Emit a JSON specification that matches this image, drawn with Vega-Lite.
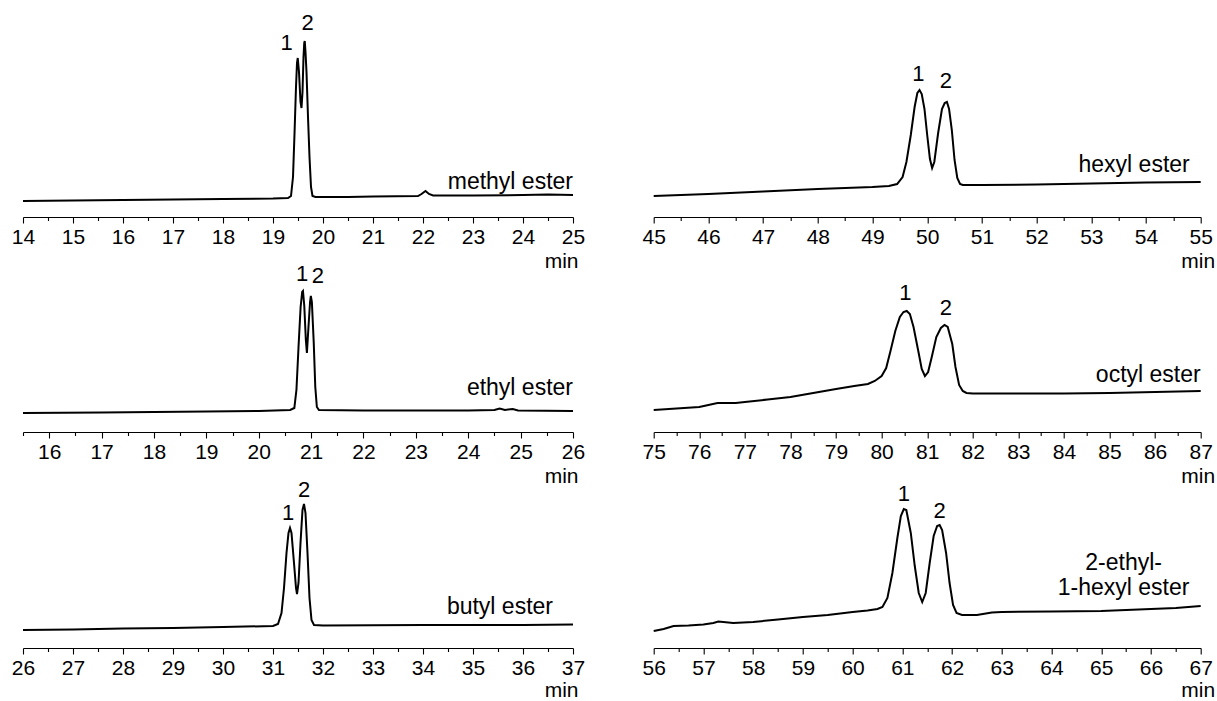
{
  "$schema": "https://vega.github.io/schema/vega-lite/v6.json",
  "padding": {"left": 11, "top": 10, "right": 0, "bottom": 0},
  "autosize": {"type": "pad"},
  "config": {
    "view": {"stroke": null},
    "font": "Liberation Sans",
    "axis": {"domainColor": "black", "domainWidth": 1.1, "tickColor": "black", "tickWidth": 1.1, "labelColor": "black", "labelFont": "Liberation Sans", "labelFontSize": 21, "labelPadding": 3, "labelFlush": false, "labelOverlap": false, "grid": false, "titleFont": "Liberation Sans", "titleFontSize": 21, "titleFontWeight": "normal", "titleColor": "black", "titleAlign": "right", "titleBaseline": "middle", "titleY": 44},
    "text": {"font": "Liberation Sans", "color": "black"}
  },
  "datasets": {
    "trace": [
      {"s":"methyl","t":14,"v":16},{"s":"methyl","t":15,"v":16.5},{"s":"methyl","t":16,"v":17},{"s":"methyl","t":17,"v":17.5},{"s":"methyl","t":18,"v":18},{"s":"methyl","t":19,"v":18.5},{"s":"methyl","t":19.3,"v":19},{"s":"methyl","t":19.36,"v":21},{"s":"methyl","t":19.4,"v":40},{"s":"methyl","t":19.43,"v":83},{"s":"methyl","t":19.46,"v":130},{"s":"methyl","t":19.48,"v":154},{"s":"methyl","t":19.495,"v":159},{"s":"methyl","t":19.52,"v":145},{"s":"methyl","t":19.55,"v":115},{"s":"methyl","t":19.57,"v":109},{"s":"methyl","t":19.59,"v":125},{"s":"methyl","t":19.61,"v":160},{"s":"methyl","t":19.625,"v":174},{"s":"methyl","t":19.635,"v":176},{"s":"methyl","t":19.65,"v":165},{"s":"methyl","t":19.67,"v":145},{"s":"methyl","t":19.7,"v":100},{"s":"methyl","t":19.73,"v":60},{"s":"methyl","t":19.76,"v":30},{"s":"methyl","t":19.79,"v":21},{"s":"methyl","t":19.85,"v":20},{"s":"methyl","t":20.5,"v":20},{"s":"methyl","t":21,"v":20.5},{"s":"methyl","t":21.9,"v":21},{"s":"methyl","t":21.97,"v":23},{"s":"methyl","t":22.05,"v":26},{"s":"methyl","t":22.12,"v":23},{"s":"methyl","t":22.2,"v":21.5},{"s":"methyl","t":23,"v":21.5},{"s":"methyl","t":24,"v":22},{"s":"methyl","t":24.5,"v":22.5},{"s":"methyl","t":25,"v":22},
      {"s":"ethyl","t":15.5,"v":19},{"s":"ethyl","t":17,"v":19.5},{"s":"ethyl","t":18,"v":20},{"s":"ethyl","t":19,"v":20.5},{"s":"ethyl","t":20,"v":21},{"s":"ethyl","t":20.6,"v":22},{"s":"ethyl","t":20.68,"v":24},{"s":"ethyl","t":20.72,"v":42},{"s":"ethyl","t":20.76,"v":85},{"s":"ethyl","t":20.8,"v":125},{"s":"ethyl","t":20.83,"v":140},{"s":"ethyl","t":20.845,"v":141},{"s":"ethyl","t":20.87,"v":126},{"s":"ethyl","t":20.9,"v":92},{"s":"ethyl","t":20.92,"v":79},{"s":"ethyl","t":20.95,"v":105},{"s":"ethyl","t":20.98,"v":130},{"s":"ethyl","t":20.995,"v":136},{"s":"ethyl","t":21.015,"v":130},{"s":"ethyl","t":21.05,"v":90},{"s":"ethyl","t":21.08,"v":45},{"s":"ethyl","t":21.11,"v":25},{"s":"ethyl","t":21.15,"v":22},{"s":"ethyl","t":22,"v":21.5},{"s":"ethyl","t":23,"v":21.5},{"s":"ethyl","t":24,"v":21.5},{"s":"ethyl","t":24.5,"v":22},{"s":"ethyl","t":24.6,"v":23.5},{"s":"ethyl","t":24.7,"v":22},{"s":"ethyl","t":24.85,"v":23},{"s":"ethyl","t":24.95,"v":21.5},{"s":"ethyl","t":26,"v":21},
      {"s":"butyl","t":26,"v":18},{"s":"butyl","t":27,"v":18.5},{"s":"butyl","t":28,"v":19.5},{"s":"butyl","t":29,"v":20},{"s":"butyl","t":30,"v":21},{"s":"butyl","t":31,"v":22},{"s":"butyl","t":31.1,"v":24},{"s":"butyl","t":31.17,"v":35},{"s":"butyl","t":31.22,"v":60},{"s":"butyl","t":31.27,"v":95},{"s":"butyl","t":31.31,"v":115},{"s":"butyl","t":31.34,"v":120},{"s":"butyl","t":31.37,"v":115},{"s":"butyl","t":31.42,"v":85},{"s":"butyl","t":31.46,"v":60},{"s":"butyl","t":31.48,"v":54},{"s":"butyl","t":31.51,"v":65},{"s":"butyl","t":31.55,"v":105},{"s":"butyl","t":31.59,"v":138},{"s":"butyl","t":31.62,"v":144},{"s":"butyl","t":31.65,"v":135},{"s":"butyl","t":31.69,"v":95},{"s":"butyl","t":31.73,"v":50},{"s":"butyl","t":31.77,"v":28},{"s":"butyl","t":31.82,"v":23},{"s":"butyl","t":32,"v":22.5},{"s":"butyl","t":34,"v":23},{"s":"butyl","t":36,"v":23},{"s":"butyl","t":37,"v":23.5},
      {"s":"hexyl","t":45,"v":21},{"s":"hexyl","t":46,"v":23},{"s":"hexyl","t":47,"v":25.5},{"s":"hexyl","t":48,"v":28},{"s":"hexyl","t":49,"v":30},{"s":"hexyl","t":49.3,"v":31},{"s":"hexyl","t":49.45,"v":33},{"s":"hexyl","t":49.55,"v":40},{"s":"hexyl","t":49.62,"v":55},{"s":"hexyl","t":49.7,"v":82},{"s":"hexyl","t":49.77,"v":110},{"s":"hexyl","t":49.82,"v":124},{"s":"hexyl","t":49.86,"v":127},{"s":"hexyl","t":49.9,"v":123},{"s":"hexyl","t":49.95,"v":108},{"s":"hexyl","t":50.0,"v":82},{"s":"hexyl","t":50.05,"v":58},{"s":"hexyl","t":50.09,"v":49},{"s":"hexyl","t":50.13,"v":55},{"s":"hexyl","t":50.2,"v":84},{"s":"hexyl","t":50.27,"v":108},{"s":"hexyl","t":50.32,"v":114},{"s":"hexyl","t":50.36,"v":115},{"s":"hexyl","t":50.4,"v":108},{"s":"hexyl","t":50.45,"v":87},{"s":"hexyl","t":50.5,"v":57},{"s":"hexyl","t":50.55,"v":39},{"s":"hexyl","t":50.6,"v":33},{"s":"hexyl","t":50.65,"v":32},{"s":"hexyl","t":51,"v":32},{"s":"hexyl","t":52,"v":32.5},{"s":"hexyl","t":53,"v":33.5},{"s":"hexyl","t":54,"v":34.5},{"s":"hexyl","t":55,"v":35},
      {"s":"octyl","t":75,"v":22},{"s":"octyl","t":75.5,"v":23.5},{"s":"octyl","t":76,"v":25},{"s":"octyl","t":76.2,"v":27},{"s":"octyl","t":76.4,"v":29},{"s":"octyl","t":76.8,"v":29},{"s":"octyl","t":77,"v":30},{"s":"octyl","t":77.5,"v":32.5},{"s":"octyl","t":78,"v":35},{"s":"octyl","t":78.5,"v":39},{"s":"octyl","t":79,"v":43},{"s":"octyl","t":79.4,"v":46},{"s":"octyl","t":79.7,"v":48},{"s":"octyl","t":79.85,"v":51},{"s":"octyl","t":80.0,"v":56},{"s":"octyl","t":80.1,"v":64},{"s":"octyl","t":80.2,"v":82},{"s":"octyl","t":80.3,"v":101},{"s":"octyl","t":80.4,"v":115},{"s":"octyl","t":80.48,"v":120},{"s":"octyl","t":80.55,"v":121},{"s":"octyl","t":80.62,"v":118},{"s":"octyl","t":80.7,"v":105},{"s":"octyl","t":80.8,"v":82},{"s":"octyl","t":80.88,"v":63},{"s":"octyl","t":80.95,"v":56},{"s":"octyl","t":81.02,"v":60},{"s":"octyl","t":81.1,"v":75},{"s":"octyl","t":81.2,"v":95},{"s":"octyl","t":81.3,"v":104},{"s":"octyl","t":81.38,"v":107},{"s":"octyl","t":81.45,"v":105},{"s":"octyl","t":81.55,"v":88},{"s":"octyl","t":81.62,"v":65},{"s":"octyl","t":81.7,"v":47},{"s":"octyl","t":81.78,"v":41},{"s":"octyl","t":81.86,"v":39},{"s":"octyl","t":82,"v":38.5},{"s":"octyl","t":83,"v":38.5},{"s":"octyl","t":84,"v":38.5},{"s":"octyl","t":85,"v":39},{"s":"octyl","t":86,"v":40},{"s":"octyl","t":87,"v":41},
      {"s":"ehex","t":56,"v":17},{"s":"ehex","t":56.2,"v":19},{"s":"ehex","t":56.4,"v":22},{"s":"ehex","t":56.7,"v":22.5},{"s":"ehex","t":57,"v":23.5},{"s":"ehex","t":57.2,"v":25},{"s":"ehex","t":57.3,"v":26.5},{"s":"ehex","t":57.6,"v":25},{"s":"ehex","t":58,"v":26},{"s":"ehex","t":58.5,"v":28.5},{"s":"ehex","t":59,"v":31},{"s":"ehex","t":59.5,"v":33},{"s":"ehex","t":60,"v":36},{"s":"ehex","t":60.3,"v":37.5},{"s":"ehex","t":60.5,"v":39},{"s":"ehex","t":60.6,"v":41},{"s":"ehex","t":60.7,"v":50},{"s":"ehex","t":60.8,"v":75},{"s":"ehex","t":60.9,"v":110},{"s":"ehex","t":60.97,"v":132},{"s":"ehex","t":61.03,"v":139},{"s":"ehex","t":61.08,"v":138},{"s":"ehex","t":61.17,"v":115},{"s":"ehex","t":61.25,"v":82},{"s":"ehex","t":61.33,"v":55},{"s":"ehex","t":61.4,"v":46},{"s":"ehex","t":61.47,"v":55},{"s":"ehex","t":61.55,"v":85},{"s":"ehex","t":61.63,"v":112},{"s":"ehex","t":61.7,"v":122},{"s":"ehex","t":61.75,"v":123},{"s":"ehex","t":61.8,"v":118},{"s":"ehex","t":61.88,"v":95},{"s":"ehex","t":61.95,"v":65},{"s":"ehex","t":62.02,"v":43},{"s":"ehex","t":62.09,"v":35},{"s":"ehex","t":62.2,"v":33},{"s":"ehex","t":62.5,"v":33},{"s":"ehex","t":62.8,"v":35.5},{"s":"ehex","t":63,"v":36},{"s":"ehex","t":64,"v":36.5},{"s":"ehex","t":65,"v":37},{"s":"ehex","t":66,"v":39},{"s":"ehex","t":66.5,"v":40},{"s":"ehex","t":67,"v":42}
    ],
    "labels": [
      {"s":"methyl","k":"peak","t":19.27,"v":174,"label":"1"},{"s":"methyl","k":"peak","t":19.69,"v":194,"label":"2"},{"s":"methyl","k":"name","t":25,"v":35,"label":"methyl ester"},
      {"s":"ethyl","k":"peak","t":20.83,"v":158,"label":"1"},{"s":"ethyl","k":"peak","t":21.13,"v":156,"label":"2"},{"s":"ethyl","k":"name","t":26,"v":44,"label":"ethyl ester"},
      {"s":"butyl","k":"peak","t":31.3,"v":135,"label":"1"},{"s":"butyl","k":"peak","t":31.62,"v":158,"label":"2"},{"s":"butyl","k":"name","t":36.6,"v":41,"label":"butyl ester"},
      {"s":"hexyl","k":"peak","t":49.84,"v":143,"label":"1"},{"s":"hexyl","k":"peak","t":50.34,"v":136,"label":"2"},{"s":"hexyl","k":"name","t":54.8,"v":52,"label":"hexyl ester"},
      {"s":"octyl","k":"peak","t":80.52,"v":139,"label":"1"},{"s":"octyl","k":"peak","t":81.41,"v":124,"label":"2"},{"s":"octyl","k":"name","t":87,"v":57,"label":"octyl ester"},
      {"s":"ehex","k":"peak","t":61.03,"v":154,"label":"1"},{"s":"ehex","k":"peak","t":61.75,"v":137,"label":"2"},{"s":"ehex","k":"name","t":65.45,"v":85,"label":"2-ethyl-"},{"s":"ehex","k":"name","t":65.45,"v":60,"label":"1-hexyl ester"}
    ]
  },
  "bounds": "flush",
  "columns": 2,
  "spacing": {"row": 55, "column": 80.7},
  "concat": [
    {
      "width": 550, "height": 207,
      "encoding": {
        "x": {"field": "t", "type": "quantitative", "scale": {"domain": [14, 25], "nice": false, "zero": false},
          "axis": {"values": [14,14.5,15,15.5,16,16.5,17,17.5,18,18.5,19,19.5,20,20.5,21,21.5,22,22.5,23,23.5,24,24.5,25], "labelExpr": "datum.value % 1 === 0 ? '' + datum.value : ''", "tickSize": {"condition": {"test": "datum.value % 1 === 0", "value": 6}, "value": 3.5}, "title": "min", "titleX": 555}},
        "y": {"field": "v", "type": "quantitative", "scale": {"domain": [0, 207], "nice": false, "zero": false}, "axis": null}
      },
      "layer": [
        {"data": {"name": "trace"}, "transform": [{"filter": "datum.s === 'methyl'"}], "mark": {"type": "line", "color": "black", "strokeWidth": 2}},
        {"data": {"name": "labels"}, "transform": [{"filter": "datum.s === 'methyl' && datum.k === 'peak'"}], "mark": {"type": "text", "fontSize": 22, "align": "center", "baseline": "middle"}, "encoding": {"text": {"field": "label"}}},
        {"data": {"name": "labels"}, "transform": [{"filter": "datum.s === 'methyl' && datum.k === 'name'"}], "mark": {"type": "text", "fontSize": 23, "align": "right", "baseline": "middle"}, "encoding": {"text": {"field": "label"}}}
      ]
    },
    {
      "width": 547, "height": 207,
      "encoding": {
        "x": {"field": "t", "type": "quantitative", "scale": {"domain": [45, 55], "nice": false, "zero": false},
          "axis": {"values": [45,45.5,46,46.5,47,47.5,48,48.5,49,49.5,50,50.5,51,51.5,52,52.5,53,53.5,54,54.5,55], "labelExpr": "datum.value % 1 === 0 ? '' + datum.value : ''", "tickSize": {"condition": {"test": "datum.value % 1 === 0", "value": 6}, "value": 3.5}, "title": "min", "titleX": 561}},
        "y": {"field": "v", "type": "quantitative", "scale": {"domain": [0, 207], "nice": false, "zero": false}, "axis": null}
      },
      "layer": [
        {"data": {"name": "trace"}, "transform": [{"filter": "datum.s === 'hexyl'"}], "mark": {"type": "line", "color": "black", "strokeWidth": 2}},
        {"data": {"name": "labels"}, "transform": [{"filter": "datum.s === 'hexyl' && datum.k === 'peak'"}], "mark": {"type": "text", "fontSize": 22, "align": "center", "baseline": "middle"}, "encoding": {"text": {"field": "label"}}},
        {"data": {"name": "labels"}, "transform": [{"filter": "datum.s === 'hexyl' && datum.k === 'name'"}], "mark": {"type": "text", "fontSize": 23, "align": "right", "baseline": "middle"}, "encoding": {"text": {"field": "label"}}}
      ]
    },
    {
      "width": 550, "height": 160,
      "encoding": {
        "x": {"field": "t", "type": "quantitative", "scale": {"domain": [15.5, 26], "nice": false, "zero": false},
          "axis": {"values": [15.5,16,16.5,17,17.5,18,18.5,19,19.5,20,20.5,21,21.5,22,22.5,23,23.5,24,24.5,25,25.5,26], "labelExpr": "datum.value % 1 === 0 ? '' + datum.value : ''", "tickSize": {"condition": {"test": "datum.value % 1 === 0", "value": 6}, "value": 3.5}, "title": "min", "titleX": 555}},
        "y": {"field": "v", "type": "quantitative", "scale": {"domain": [0, 160], "nice": false, "zero": false}, "axis": null}
      },
      "layer": [
        {"data": {"name": "trace"}, "transform": [{"filter": "datum.s === 'ethyl'"}], "mark": {"type": "line", "color": "black", "strokeWidth": 2}},
        {"data": {"name": "labels"}, "transform": [{"filter": "datum.s === 'ethyl' && datum.k === 'peak'"}], "mark": {"type": "text", "fontSize": 22, "align": "center", "baseline": "middle"}, "encoding": {"text": {"field": "label"}}},
        {"data": {"name": "labels"}, "transform": [{"filter": "datum.s === 'ethyl' && datum.k === 'name'"}], "mark": {"type": "text", "fontSize": 23, "align": "right", "baseline": "middle"}, "encoding": {"text": {"field": "label"}}}
      ]
    },
    {
      "width": 547, "height": 160,
      "encoding": {
        "x": {"field": "t", "type": "quantitative", "scale": {"domain": [75, 87], "nice": false, "zero": false},
          "axis": {"values": [75,75.5,76,76.5,77,77.5,78,78.5,79,79.5,80,80.5,81,81.5,82,82.5,83,83.5,84,84.5,85,85.5,86,86.5,87], "labelExpr": "datum.value % 1 === 0 ? '' + datum.value : ''", "tickSize": {"condition": {"test": "datum.value % 1 === 0", "value": 6}, "value": 3.5}, "title": "min", "titleX": 561}},
        "y": {"field": "v", "type": "quantitative", "scale": {"domain": [0, 160], "nice": false, "zero": false}, "axis": null}
      },
      "layer": [
        {"data": {"name": "trace"}, "transform": [{"filter": "datum.s === 'octyl'"}], "mark": {"type": "line", "color": "black", "strokeWidth": 2}},
        {"data": {"name": "labels"}, "transform": [{"filter": "datum.s === 'octyl' && datum.k === 'peak'"}], "mark": {"type": "text", "fontSize": 22, "align": "center", "baseline": "middle"}, "encoding": {"text": {"field": "label"}}},
        {"data": {"name": "labels"}, "transform": [{"filter": "datum.s === 'octyl' && datum.k === 'name'"}], "mark": {"type": "text", "fontSize": 23, "align": "right", "baseline": "middle"}, "encoding": {"text": {"field": "label"}}}
      ]
    },
    {
      "width": 550, "height": 161,
      "encoding": {
        "x": {"field": "t", "type": "quantitative", "scale": {"domain": [26, 37], "nice": false, "zero": false},
          "axis": {"values": [26,26.5,27,27.5,28,28.5,29,29.5,30,30.5,31,31.5,32,32.5,33,33.5,34,34.5,35,35.5,36,36.5,37], "labelExpr": "datum.value % 1 === 0 ? '' + datum.value : ''", "tickSize": {"condition": {"test": "datum.value % 1 === 0", "value": 6}, "value": 3.5}, "title": "min", "titleX": 555, "titleY": 42}},
        "y": {"field": "v", "type": "quantitative", "scale": {"domain": [0, 161], "nice": false, "zero": false}, "axis": null}
      },
      "layer": [
        {"data": {"name": "trace"}, "transform": [{"filter": "datum.s === 'butyl'"}], "mark": {"type": "line", "color": "black", "strokeWidth": 2}},
        {"data": {"name": "labels"}, "transform": [{"filter": "datum.s === 'butyl' && datum.k === 'peak'"}], "mark": {"type": "text", "fontSize": 22, "align": "center", "baseline": "middle"}, "encoding": {"text": {"field": "label"}}},
        {"data": {"name": "labels"}, "transform": [{"filter": "datum.s === 'butyl' && datum.k === 'name'"}], "mark": {"type": "text", "fontSize": 23, "align": "right", "baseline": "middle"}, "encoding": {"text": {"field": "label"}}}
      ]
    },
    {
      "width": 547, "height": 161,
      "encoding": {
        "x": {"field": "t", "type": "quantitative", "scale": {"domain": [56, 67], "nice": false, "zero": false},
          "axis": {"values": [56,56.5,57,57.5,58,58.5,59,59.5,60,60.5,61,61.5,62,62.5,63,63.5,64,64.5,65,65.5,66,66.5,67], "labelExpr": "datum.value % 1 === 0 ? '' + datum.value : ''", "tickSize": {"condition": {"test": "datum.value % 1 === 0", "value": 6}, "value": 3.5}, "title": "min", "titleX": 561, "titleY": 42}},
        "y": {"field": "v", "type": "quantitative", "scale": {"domain": [0, 161], "nice": false, "zero": false}, "axis": null}
      },
      "layer": [
        {"data": {"name": "trace"}, "transform": [{"filter": "datum.s === 'ehex'"}], "mark": {"type": "line", "color": "black", "strokeWidth": 2}},
        {"data": {"name": "labels"}, "transform": [{"filter": "datum.s === 'ehex' && datum.k === 'peak'"}], "mark": {"type": "text", "fontSize": 22, "align": "center", "baseline": "middle"}, "encoding": {"text": {"field": "label"}}},
        {"data": {"name": "labels"}, "transform": [{"filter": "datum.s === 'ehex' && datum.k === 'name'"}], "mark": {"type": "text", "fontSize": 23, "align": "center", "baseline": "middle"}, "encoding": {"text": {"field": "label"}}}
      ]
    }
  ]
}
